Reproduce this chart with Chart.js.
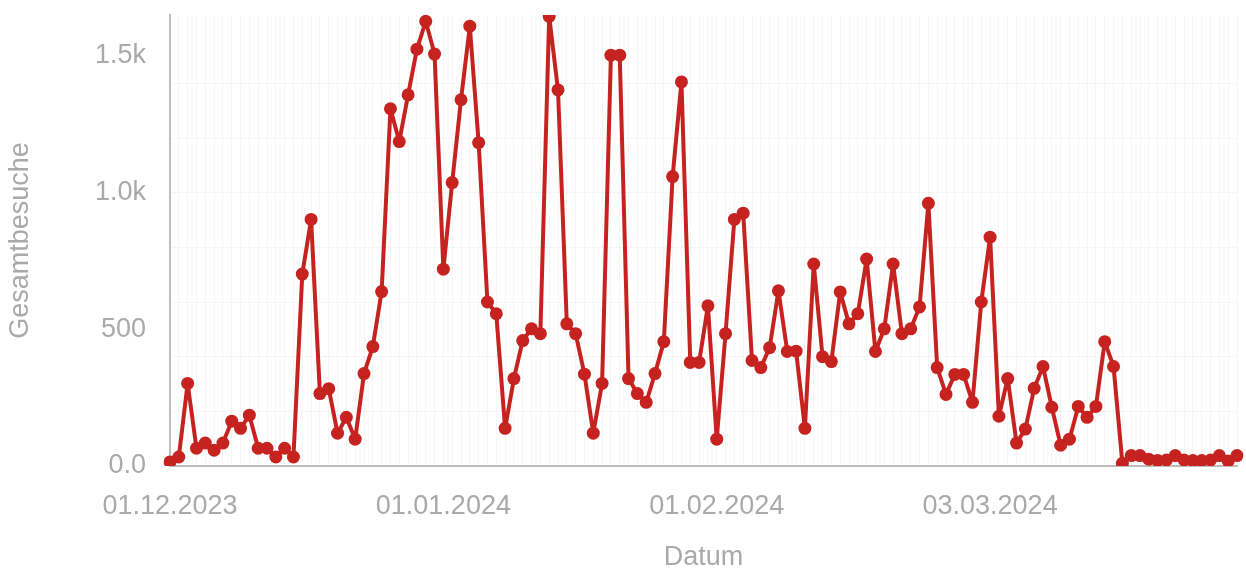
<!DOCTYPE html>
<html>
<head>
<meta charset="utf-8">
<script src="https://cdn.jsdelivr.net/npm/chart.js@4.4.1/dist/chart.umd.min.js"></script>
<style>
  html, body { margin: 0; padding: 0; background: #fff; }
</style>
</head>
<body>
<canvas id="visits" width="1246" height="571"></canvas>
<script>
// Tagesbesuche 01.12.2023 - 31.03.2024
const startDate = new Date(2023, 11, 1)
const dayCount = 122

const visits = [
  15, 33, 302, 65, 84, 58, 84, 164, 138, 186,
  65, 65, 33, 65, 33, 702, 902, 265, 283, 120,
  178, 98, 338, 437, 638, 1307, 1187, 1358, 1525, 1627,
  1507, 720, 1037, 1340, 1609, 1183, 600, 557, 138, 320,
  459, 502, 484, 1645, 1376, 520, 484, 336, 120, 302,
  1503, 1503, 320, 265, 233, 338, 455, 1059, 1405, 379,
  379, 586, 98, 484, 902, 925, 386, 360, 433, 641,
  419, 420, 138, 739, 400, 382, 637, 520, 557, 757,
  419, 502, 739, 484, 502, 582, 961, 360, 262, 335,
  335, 233, 600, 837, 182, 320, 84, 135, 284, 364,
  215, 76, 98, 218, 178, 218, 455, 364, 10, 38,
  38, 25, 20, 22, 38, 22, 20, 20, 22, 38,
  18, 38
]

const xTickLabels = ['01.12.2023', '01.01.2024', '01.02.2024', '03.03.2024']
const yTickValues = [0, 500, 1000, 1500]
const yTickLabels = ['0.0', '500', '1.0k', '1.5k']

function fmt(d) {
  const dd = String(d.getDate()).padStart(2, '0')
  const mm = String(d.getMonth() + 1).padStart(2, '0')
  return dd + '.' + mm + '.' + d.getFullYear()
}

let days = []
for (let i = 0; i < dayCount; i++) {
  let d = new Date(startDate)
  d.setDate(d.getDate() + i)
  days.push(fmt(d))
}

Chart.defaults.font.family = '"Liberation Sans", Arial, sans-serif'
Chart.defaults.color = '#a9a9a9'

const red = '#c62320'
const faint = 'rgba(0,0,0,0.035)'
const axisGrey = '#bdbdbd'

new Chart(document.getElementById('visits').getContext('2d'), {
  type: 'line',
  data: {
    labels: days,
    datasets: [{
      label: 'Gesamtbesuche',
      data: visits,
      borderColor: red,
      backgroundColor: red,
      borderWidth: 4,
      borderJoinStyle: 'round',
      borderCapStyle: 'round',
      pointRadius: 6.5,
      pointBackgroundColor: red,
      pointBorderColor: red,
      pointBorderWidth: 0,
      tension: 0
    }]
  },
  options: {
    responsive: false,
    animation: false,
    layout: { padding: { top: 15, right: 9, left: 0, bottom: 0 } },
    plugins: {
      legend: { display: false },
      tooltip: { enabled: false }
    },
    scales: {
      x: {
        offset: false,
        border: { color: axisGrey, width: 2 },
        grid: { color: faint, drawTicks: false },
        ticks: {
          autoSkip: false,
          maxRotation: 0,
          padding: 24,
          font: { size: 27 },
          callback: function(value, index) {
            let lbl = this.getLabelForValue(value)
            return xTickLabels.includes(lbl) ? lbl : ''
          }
        },
        title: {
          display: true,
          text: 'Datum',
          font: { size: 27 },
          padding: { top: 0, bottom: -3 }
        },
        afterFit: function(scale) {
          scale.height = 105
          scale.paddingLeft = 0
          scale.paddingRight = 0
        }
      },
      y: {
        min: 0,
        max: 1650,
        border: { color: axisGrey, width: 2 },
        grid: {
          drawTicks: false,
          color: ctx => (ctx.tick && ctx.tick.value > 0 && ctx.tick.value % 200 === 0) ? faint : 'rgba(0,0,0,0)'
        },
        ticks: {
          stepSize: 100,
          autoSkip: false,
          padding: 24,
          font: { size: 27 },
          callback: function(value) {
            let k = yTickValues.indexOf(value)
            return k >= 0 ? yTickLabels[k] : ''
          }
        },
        title: {
          display: true,
          text: 'Gesamtbesuche',
          font: { size: 27 },
          padding: { top: 4, bottom: 0 }
        },
        afterFit: function(scale) {
          scale.width = 170
          scale.paddingTop = 0
          scale.paddingBottom = 0
        }
      }
    }
  }
})
</script>
</body>
</html>
